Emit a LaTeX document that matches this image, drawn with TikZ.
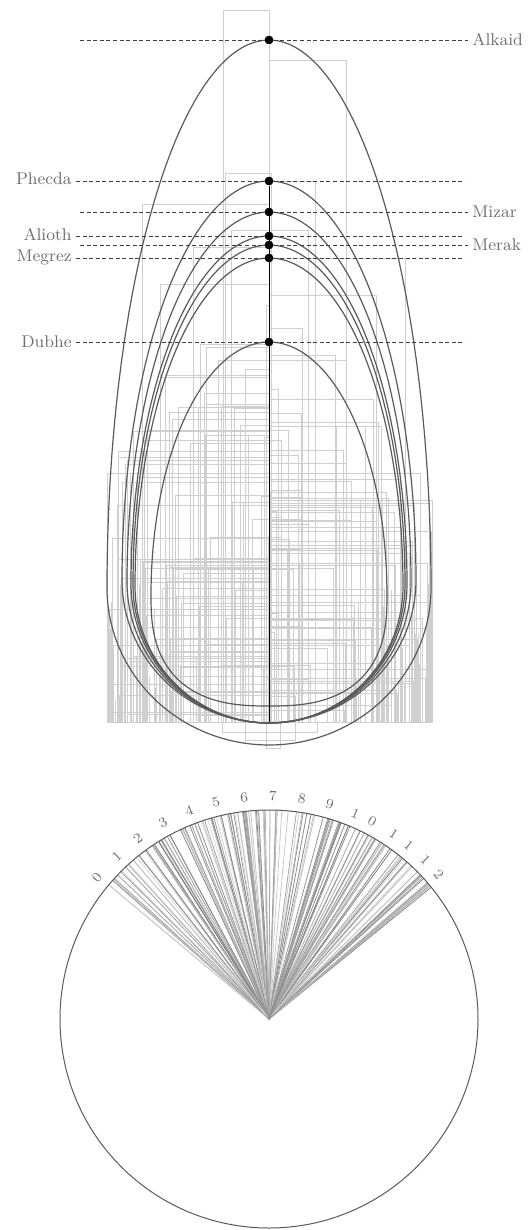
\documentclass[tikz,border=0pt]{standalone}
\usepackage{xcolor}
\usepackage{tikz}
\usetikzlibrary{positioning,calc}
\definecolor{Curve}{HTML}{5A5A5A}
\definecolor{Grid}{HTML}{CFCFCF}
\definecolor{Label}{HTML}{6E6E6E}

% egg outline: top y, half width, widest y, bottom y, bottom exponent
\newcommand{\eggcurve}[5]{%
  \draw[egg] plot[domain=0:180,samples=90,variable=\t]
      ({269+#2*cos(\t)},{#3-(#3-#1)*sin(\t)})
    -- plot[domain=180:360,samples=90,variable=\t]
      ({269+#2*sign(cos(\t))*max(abs(cos(\t)),0.0001)^(2/#5)},
       {#3+(#4-#3)*max(abs(sin(\t)),0.0001)^(2/#5)}) -- cycle;}

\begin{document}
\begin{tikzpicture}[x=0.5pt,y=-0.5pt,
    cell/.style={draw=Grid,line width=0.35pt},
    egg/.style={draw=Curve,line width=0.6pt},
    guide/.style={draw=black!75,line width=0.4pt,dash pattern=on 2pt off 1.3pt},
    star/.style={circle,fill=black,inner sep=0pt,minimum size=4.2pt},
    starname/.style={text=Label,font=\fontsize{8.5}{10}\selectfont,inner sep=2pt},
    hour/.style={text=Label,font=\fontsize{7}{8}\selectfont,inner sep=0pt,text depth=0pt},
    ray/.style={line width=0.4pt}
]
\useasboundingbox (0,0) rectangle (529,1230);

% grid of boxes
\draw[cell] (223,10) rectangle (269,722);
\draw[cell] (269,60) rectangle (346,722);
\draw[cell] (142,204) rectangle (269,722);
\draw[cell] (225,173) rectangle (271,722);
\draw[cell] (269,181) rectangle (315,722);
\draw[cell] (231,230) rectangle (308,722);
\draw[cell] (193,247) rectangle (269,722);
\draw[cell] (269,258) rectangle (405,722);
\draw[cell] (160,284) rectangle (269,722);
\draw[cell] (269,295) rectangle (376,722);
\draw[cell] (107,473) rectangle (269,722);
\draw[cell] (269,500) rectangle (432,722);
\draw[cell] (222,722) rectangle (317,732);
\draw[cell] (245,722) rectangle (295,740);
\draw[cell] (266,722) rectangle (280,748);
\pgfmathsetseed{42}
\foreach \k in {1,...,90}{
  \pgfmathsetmacro\cx{107+162*rnd}
  \pgfmathsetmacro\lim{300+170*((269-\cx)/162)^2}
  \pgfmathsetmacro\cy{722-(722-\lim)*rnd}
  \draw[cell] (\cx,\cy) rectangle (269,722);
}
\foreach \k in {1,...,90}{
  \pgfmathsetmacro\cx{269+163*rnd}
  \pgfmathsetmacro\lim{300+200*((\cx-269)/163)^2}
  \pgfmathsetmacro\cy{722-(722-\lim)*rnd}
  \draw[cell] (269,\cy) rectangle (\cx,722);
}
\foreach \k in {1,...,30}{
  \pgfmathsetmacro\cx{108+50*rnd}
  \pgfmathsetmacro\cy{722-140*rnd}
  \draw[cell] (\cx,\cy) -- (\cx,722);
  \pgfmathsetmacro\dx{431-50*rnd}
  \pgfmathsetmacro\dy{722-140*rnd}
  \draw[cell] (\dx,\dy) -- (\dx,722);
}

% egg outlines
\eggcurve{40}{162}{588}{745}{2}
\eggcurve{181}{147}{580}{723}{2}
\eggcurve{212}{142}{582}{723}{2}
\eggcurve{236}{138}{584}{723}{2}
\eggcurve{245}{136}{584}{723}{2}
\eggcurve{258}{134}{586}{723}{2}
\eggcurve{342}{118}{595}{706}{2.6}

% stars on the axis
\node[star] (alkaid) at (269,40) {};
\node[star] (phecda) at (269,181) {};
\node[star] (mizar) at (269,212) {};
\node[star] (alioth) at (269,236) {};
\node[star] (merak) at (269,245) {};
\node[star] (megrez) at (269,258) {};
\node[star] (dubhe) at (269,342) {};
\coordinate (axisfoot) at (269,722);
\draw[black,line width=0.45pt] (phecda) -- (axisfoot);

% names and guide lines
\node[starname,anchor=west] (alkaidL) at (468,40) {Alkaid};
\node[starname,anchor=east] (phecdaL) at (76,179) {Phecda};
\node[starname,anchor=west] (mizarL) at (468,212) {Mizar};
\node[starname,anchor=east] (aliothL) at (76,235) {Alioth};
\node[starname,anchor=west] (merakL) at (468,245) {Merak};
\node[starname,anchor=east] (megrezL) at (76,257) {Megrez};
\node[starname,anchor=east] (dubheL) at (76,342) {Dubhe};
\coordinate (alkaidE) at (80,40);
\coordinate (phecdaE) at (465,181);
\coordinate (mizarE) at (80,212);
\coordinate (aliothE) at (465,236);
\coordinate (merakE) at (80,245);
\coordinate (megrezE) at (465,258);
\coordinate (dubheE) at (465,342);
\draw[guide] (alkaidE) -- (alkaid) -- (alkaidL.west);
\draw[guide] (phecdaL.east |- phecda) -- (phecda) -- (phecdaE);
\draw[guide] (mizarE) -- (mizar) -- (mizarL.west |- mizar);
\draw[guide] (aliothL.east |- alioth) -- (alioth) -- (aliothE);
\draw[guide] (merakE) -- (merak) -- (merakL.west |- merak);
\draw[guide] (megrezL.east |- megrez) -- (megrez) -- (megrezE);
\draw[guide] (dubheL.east) -- (dubhe) -- (dubheE);
\foreach \s in {alkaid,phecda,mizar,alioth,merak,megrez,dubhe}
  \node[star] at (\s) {};

% clock dial
\begin{scope}[shift={(269,1019)},y=0.5pt]
  \coordinate (hub) at (0,0);
  \pgfmathsetseed{11}
  \foreach \k in {1,...,170}{
    \pgfmathsetmacro\ang{39+102*rnd}
    \pgfmathtruncatemacro\shade{15+40*rnd}
    \draw[ray,draw=black!\shade] (hub) -- (\ang:209);
  }
  \draw[draw=Curve,line width=0.5pt] (hub) circle[radius=209];
  % hour marks, two-digit hours set one digit at a time along the rim
  \foreach \h/\a [count=\i] in {0/140.5,1/133,2/126,3/118.4,4/111,5/103.8,6/96.4,7/89,8/81.5,9/74.2,
      1/67.2,0/62.4,1/56,1/51.2,1/45.4,2/40.4}
    \node[hour,rotate=\a-90] (hour\i) at (\a:223) {\h};
\end{scope}
\end{tikzpicture}
\end{document}
